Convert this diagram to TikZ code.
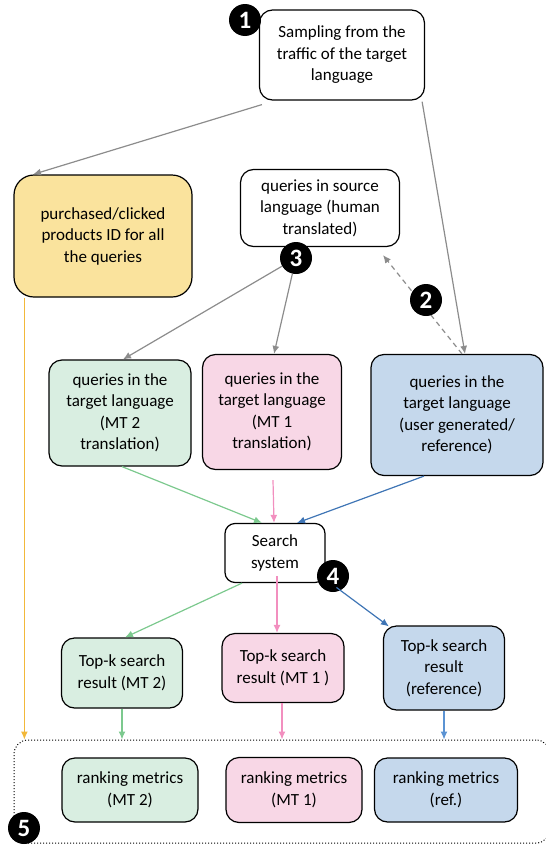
\documentclass[tikz,border=0pt]{standalone}
\usepackage{fontspec}
\setmainfont{Carlito}
\usetikzlibrary{arrows.meta}
\definecolor{boxgreen}{HTML}{D9EEE1}
\definecolor{boxpink}{HTML}{F8D7E6}
\definecolor{boxblue}{HTML}{C5D8EC}
\definecolor{boxyellow}{HTML}{FAE39D}
\definecolor{lgray}{HTML}{8C8C8C}
\definecolor{lgreen}{HTML}{7CC98E}
\definecolor{lpink}{HTML}{F28FBF}
\definecolor{lblue}{HTML}{3F75B5}
\definecolor{lblue2}{HTML}{5B93D3}
\definecolor{lyellow}{HTML}{F2B83A}
\tikzset{
  box/.style={draw=black, line width=1.2pt, rounded corners=13pt, align=center,
    inner sep=0pt, font=\fontsize{17}{21.5}\selectfont},
  badge/.style={circle, fill=black, text=white, minimum size=32pt, inner sep=0pt,
    font=\fontsize{25}{25}\selectfont\bfseries},
  flow/.style={line width=1.2pt, -{Latex[length=8pt,width=7pt]}},
}
\begin{document}
\begin{tikzpicture}[x=1pt,y=-1pt]
\useasboundingbox (0,0) rectangle (546,846);

% top: sampling
\node[box, minimum width=165pt, minimum height=90pt] (samp) at (342,55)
  {Sampling from the\\traffic of the target\\language};
\node[badge] (b1) at (245,20) {1};

% gold standard products
\node[box, fill=boxyellow, rounded corners=20pt, minimum width=178pt, minimum height=122pt] (yel) at (103,236)
  {purchased/clicked\\products ID for all\\the queries};

% human translated source queries
\node[box, minimum width=159pt, minimum height=77pt] (src) at (320,208)
  {queries in source\\language (human\\translated)};
\node[badge] (b3) at (296,258) {3};

% target-language query sets
\node[box, fill=boxgreen, minimum width=142pt, minimum height=106pt] (qg) at (120,413)
  {queries in the\\target language\\(MT 2\\translation)};
\node[box, fill=boxpink, minimum width=139pt, minimum height=115pt] (qp) at (272,412)
  {queries in the\\target language\\(MT 1\\translation)};
\node[box, fill=boxblue, minimum width=172pt, minimum height=121pt] (qb) at (457,415)
  {queries in the\\target language\\(user generated/\\reference)};

% search
\node[box, rounded corners=10pt, minimum width=100pt, minimum height=59pt] (srch) at (275,553)
  {Search\\system};

% top-k results
\node[box, fill=boxgreen, minimum width=121pt, minimum height=70pt] (tg) at (122,673)
  {Top-k search\\result (MT 2)};
\node[box, fill=boxpink, minimum width=122pt, minimum height=69pt] (tp) at (283,668)
  {Top-k search\\result (MT 1 )};
\node[box, fill=boxblue, minimum width=121pt, minimum height=84pt] (tb) at (444,668)
  {Top-k search\\result\\(reference)};

% evaluation area
\node[draw=black, dotted, line width=1pt, rounded corners=14pt, minimum width=536pt,
  minimum height=103pt, inner sep=0pt] (eval) at (282,791.5) {};
\node[box, fill=boxgreen, minimum width=136pt, minimum height=64pt] (rg) at (130,790)
  {ranking metrics\\(MT 2)};
\node[box, fill=boxpink, minimum width=136pt, minimum height=65pt] (rp) at (294,790)
  {ranking metrics\\(MT 1)};
\node[box, fill=boxblue, minimum width=143pt, minimum height=64pt] (rb) at (446,790)
  {ranking metrics\\(ref.)};
\node[badge] (b5) at (24,828) {5};

% connectors
\draw[flow, lgray] ([xshift=3pt,yshift=-4pt]samp.south west) -- ([xshift=-70pt]yel.north);
\draw[flow, lgray] ([xshift=-3pt,yshift=-1pt]samp.south east) -- ([xshift=8pt]qb.north);
\draw[flow, lgray, dash pattern=on 5pt off 4pt] ([xshift=5pt]qb.north) -- ([xshift=63pt,yshift=-8pt]src.south);
\node[badge] (b2) at (426,300) {2};
\draw[flow, lgray] (b3) -- ([xshift=3pt]qg.north);
\draw[flow, lgray] (b3) -- ([xshift=2pt]qp.north);

\draw[flow, lgreen] ([xshift=2pt]qg.south) -- ([xshift=-13pt]srch.north);
\draw[flow, lpink] ([yshift=-10pt,xshift=1pt]qp.south) -- ([xshift=-1pt]srch.north);
\draw[flow, lblue] ([xshift=-33pt]qb.south) -- ([xshift=22pt]srch.north);

\node[badge] (b4) at (333,576) {4};
\draw[flow, lgreen] ([xshift=-33pt]srch.south) -- ([xshift=3pt]tg.north);
\draw[flow, lpink] ([xshift=2pt,yshift=7pt]srch.south) -- ([xshift=-6pt]tp.north);
\draw[flow, lblue] ([xshift=-8pt]b4.south east) -- ([xshift=6pt,yshift=-1pt]tb.north west);

\draw[flow, lgreen] (tg.south) -- (tg.south |- eval.north);
\draw[flow, lpink] ([xshift=-1pt]tp.south) -- ([xshift=-1pt]tp.south |- eval.north);
\draw[flow, lblue2] (tb.south) -- (tb.south |- eval.north);
\draw[flow, lyellow] ([xshift=11pt]yel.south west) -- ([xshift=11pt]yel.south west |- eval.north);
\end{tikzpicture}
\end{document}
